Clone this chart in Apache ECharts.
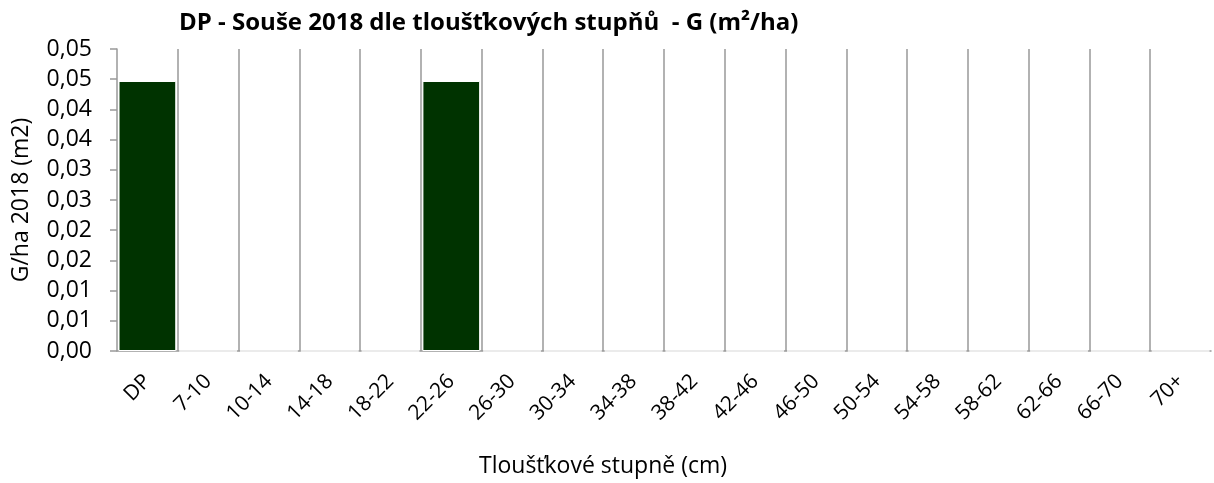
<!DOCTYPE html>
<html>
<head>
<meta charset="utf-8">
<script src="https://cdn.jsdelivr.net/npm/echarts@6/dist/echarts.min.js"></script>
<style>
  html, body { margin: 0; padding: 0; background: #fff; }
  #chart { width: 1214px; height: 483px; }
</style>
</head>
<body>
<div id="chart"></div>
<script>
// tloustkove stupne
var categories = ['DP', '7-10', '10-14', '14-18', '18-22', '22-26', '26-30', '30-34', '34-38',
  '38-42', '42-46', '46-50', '50-54', '54-58', '58-62', '62-66', '66-70', '70+'];
var values = [0.0447, 0, 0, 0, 0, 0.0447, 0, 0, 0, 0, 0, 0, 0, 0, 0, 0, 0, 0];
var yTickLabels = ['0,00', '0,01', '0,01', '0,02', '0,02', '0,03', '0,03', '0,04', '0,04', '0,05', '0,05'];

var font = '"Open Sans", sans-serif';
var chart = echarts.init(document.getElementById('chart'), null, { renderer: 'canvas' });

chart.setOption({
  animation: false,
  title: {
    text: 'DP - Souše 2018 dle tloušťkových stupňů  - G (m²/ha)',
    left: 174,
    top: 6,
    textStyle: { fontFamily: font, fontSize: 24, fontWeight: 'bold', color: '#000' }
  },
  grid: { left: 117, right: 3, top: 49, bottom: 132 },
  xAxis: {
    type: 'category',
    data: categories,
    name: 'Tloušťkové stupně (cm)',
    nameLocation: 'middle',
    nameGap: 104,
    nameTextStyle: { fontFamily: font, fontSize: 23, color: '#000', padding: [0, 122, 0, 0] },
    axisLine: { lineStyle: { color: '#999', width: 1.5 } },
    axisTick: { show: false },
    axisLabel: { rotate: 45, margin: 27, fontFamily: font, fontSize: 21, color: '#000', interval: 0 },
    splitLine: { show: true, showMinLine: false, showMaxLine: false, lineStyle: { color: '#999', width: 1.5 } }
  },
  yAxis: {
    type: 'value',
    min: 0,
    max: 0.05,
    interval: 0.005,
    name: 'G/ha 2018 (m2)',
    nameLocation: 'middle',
    nameGap: 84,
    nameTextStyle: { fontFamily: font, fontSize: 23, color: '#000' },
    axisLine: { show: true, lineStyle: { color: '#999', width: 1.5 } },
    axisTick: { show: true, length: 7, lineStyle: { color: '#999', width: 1.5 } },
    splitLine: { show: false },
    axisLabel: {
      fontFamily: font, fontSize: 23, color: '#000', margin: 25,
      formatter: function (v) { return yTickLabels[Math.round(v / 0.005)]; }
    }
  },
  series: [{
    type: 'bar',
    data: values,
    barCategoryGap: '5%',
    itemStyle: { color: '#003300', borderColor: '#fff', borderWidth: 1 }
  }]
});
</script>
</body>
</html>
